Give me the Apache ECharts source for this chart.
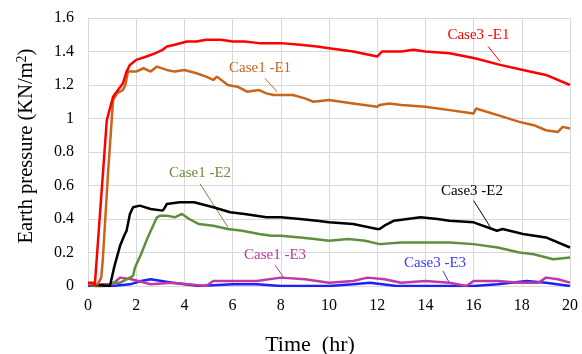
<!DOCTYPE html>
<html><head><meta charset="utf-8">
<script src="https://cdn.jsdelivr.net/npm/echarts@6/dist/echarts.min.js"></script>
<style>html,body{margin:0;padding:0;background:#fff}#c{width:582px;height:354px}</style>
</head><body><div id="c"></div>
<script>
// Case3 -E1 (red)
var c3e1X = [0,0.2,0.28,0.78,1.04,1.45,1.6,1.74,2.0,2.43,2.8,3.1,3.27,3.6,4.1,4.5,4.9,5.5,6.0,6.5,7.1,7.5,8.0,8.8,9.5,10.0,11.0,12.0,12.05,12.2,13.0,13.5,14.0,15.0,16.05,17.1,18.05,19.0,20];
var c3e1Y = [0.02,0.02,0.0,0.99,1.13,1.21,1.28,1.32,1.35,1.37,1.39,1.41,1.43,1.44,1.46,1.46,1.47,1.47,1.46,1.46,1.45,1.45,1.45,1.44,1.43,1.42,1.40,1.37,1.37,1.40,1.40,1.41,1.40,1.39,1.36,1.32,1.29,1.26,1.20];
// Case1 -E1 (orange)
var c1e1X = [0,0.4,0.55,0.62,0.83,1.04,1.2,1.45,1.55,1.66,2.0,2.3,2.6,2.86,3.27,3.6,4.0,4.5,4.9,5.2,5.35,5.8,6.2,6.6,7.1,7.4,7.7,8.0,8.5,9.0,9.35,10.0,11.0,12.0,12.1,12.5,13.0,14.0,15.0,16.0,16.1,17.0,17.9,18.5,19.0,19.5,19.7,20];
var c1e1Y = [0.01,0.01,0.05,0.17,0.67,1.11,1.15,1.17,1.20,1.28,1.28,1.30,1.28,1.31,1.29,1.28,1.29,1.27,1.25,1.23,1.25,1.20,1.19,1.16,1.17,1.15,1.14,1.14,1.14,1.12,1.10,1.11,1.09,1.07,1.08,1.09,1.08,1.07,1.05,1.03,1.06,1.02,0.98,0.96,0.93,0.92,0.95,0.94];
// Case3 -E2 (black)
var c3e2X = [0,0.91,1.1,1.33,1.5,1.6,1.74,1.87,2.15,2.6,3.1,3.2,3.27,3.8,4.4,5.2,5.9,6.5,7.4,8.0,8.8,9.5,10.0,11.0,12.0,12.1,12.3,12.7,13.8,14.5,15.0,16.0,16.97,17.2,18.05,19.0,20];
var c3e2Y = [0.01,0.0,0.12,0.24,0.30,0.33,0.43,0.47,0.48,0.46,0.45,0.47,0.49,0.50,0.50,0.47,0.44,0.43,0.41,0.41,0.40,0.39,0.38,0.37,0.34,0.34,0.36,0.39,0.41,0.40,0.39,0.38,0.33,0.34,0.31,0.29,0.23];
// Case1 -E2 (green)
var c1e2X = [0,0.45,0.7,1.05,1.33,1.6,1.87,1.95,2.2,2.45,2.7,2.86,3.0,3.27,3.6,3.9,4.2,4.6,5.2,5.8,6.4,7.1,7.6,8.0,8.8,9.4,10.0,10.8,11.5,12.1,13.0,14.0,15.0,16.0,17.0,17.9,18.5,19.3,20];
var c1e2Y = [0.01,-0.01,0.0,0.02,0.02,0.04,0.06,0.11,0.19,0.28,0.36,0.41,0.42,0.42,0.41,0.43,0.40,0.37,0.36,0.34,0.33,0.31,0.30,0.30,0.29,0.28,0.27,0.28,0.27,0.25,0.26,0.26,0.26,0.25,0.23,0.20,0.19,0.16,0.17];
// Case1 -E3 (magenta)
var c1e3X = [0,0.5,1.0,1.33,1.8,2.6,3.5,4.9,5.2,6.0,7.0,8.0,9.0,10.0,11.0,11.6,12.3,13.0,14.0,15.0,15.7,16.0,17.0,17.9,18.7,19.0,19.5,20];
var c1e3Y = [0.01,0.01,0.01,0.05,0.04,0.01,0.02,0.0,0.03,0.03,0.03,0.05,0.04,0.02,0.03,0.05,0.04,0.02,0.03,0.02,0.0,0.03,0.03,0.02,0.02,0.05,0.04,0.02];
// Case3 -E3 (blue)
var c3e3X = [0,1.0,1.74,2.2,2.6,3.5,4.6,6.0,7.0,8.0,10.0,11.0,11.7,12.8,14.0,16.0,17.0,18.2,19.0,20];
var c3e3Y = [0.0,0.0,0.01,0.03,0.04,0.02,0.0,0.01,0.01,0.0,0.0,0.01,0.02,0.0,0.0,0.0,0.01,0.03,0.02,0.0];

var seriesNames = ['Case3 -E1','Case1 -E1','Case3 -E2','Case1 -E2','Case1 -E3','Case3 -E3'];
// annotation label positions (data units) and leader lines
var labelPos = [[16.2,1.50],[7.14,1.30],[15.93,0.567],[4.65,0.675],[7.76,0.185],[14.4,0.137]];
var leaderFrom = [[16.6,1.43],[7.34,1.24],[16.0,0.51],[4.65,0.61],[7.76,0.125],[14.73,0.09]];
var leaderTo = [[17.1,1.34],[7.84,1.16],[16.7,0.35],[5.81,0.35],[8.13,0.048],[15.02,0.012]];

var xs = [c3e1X,c1e1X,c3e2X,c1e2X,c1e3X,c3e3X];
var ys = [c3e1Y,c1e1Y,c3e2Y,c1e2Y,c1e3Y,c3e3Y];
var colors = ['#ff0000','#c8651b','#000000','#5e8f3c','#c0399f','#1f1fff'];
var labelColors = ['#ff0000','#c8651b','#000000','#6b8e3f','#c0399f','#3a3aff'];
var font = 'Liberation Serif';

var series = seriesNames.map(function(n,i){
  return {
    name:n, type:'line', showSymbol:false, symbol:'none',
    data: xs[i].map(function(x,j){return [x, ys[i][j]];}),
    lineStyle:{color:colors[i], width:2.5},
    itemStyle:{color:colors[i]},
    z: 10-i,
    markPoint:{
      symbol:'circle', symbolSize:0, silent:true,
      data:[{coord:labelPos[i]}],
      label:{show:true, position:'inside', formatter:n, color:labelColors[i], fontFamily:font, fontSize:15}
    },
    markLine:{
      symbol:'none', silent:true, label:{show:false},
      lineStyle:{color:labelColors[i], width:1, type:'solid'},
      data:[[{coord:leaderFrom[i]},{coord:leaderTo[i]}]]
    }
  };
});

var chart = echarts.init(document.getElementById('c'));
chart.setOption({
  animation:false,
  grid:{left:88, right:12, top:18, bottom:68, containLabel:false, outerBoundsMode:'none'},
  xAxis:{
    type:'value', min:0, max:20, interval:2,
    name:'Time  (hr)', nameLocation:'middle', nameGap:48,
    nameTextStyle:{fontFamily:font, fontSize:22, color:'#000', padding:[0,38,0,0]},
    axisLine:{show:true, lineStyle:{color:'#d9d9d9'}},
    axisTick:{show:false},
    axisLabel:{fontFamily:font, fontSize:16, color:'#000', margin:12},
    splitLine:{show:true, lineStyle:{color:'#d9d9d9', width:1}}
  },
  yAxis:{
    type:'value', min:0, max:1.6, interval:0.2,
    name:'{a|Earth pressure (KN/m}{s|2}{a|)}', nameLocation:'middle', nameGap:49,
    nameTextStyle:{padding:[0,0,0,12], rich:{a:{fontFamily:font, fontSize:20.5, color:'#000'}, s:{fontFamily:font, fontSize:14, color:'#000', verticalAlign:'bottom', padding:[0,0,10,0]}}},
    axisLine:{show:true, lineStyle:{color:'#d9d9d9'}},
    axisTick:{show:false},
    axisLabel:{fontFamily:font, fontSize:16, color:'#000', margin:14},
    splitLine:{show:true, lineStyle:{color:'#d9d9d9', width:1}}
  },
  series: series
});
</script></body></html>
